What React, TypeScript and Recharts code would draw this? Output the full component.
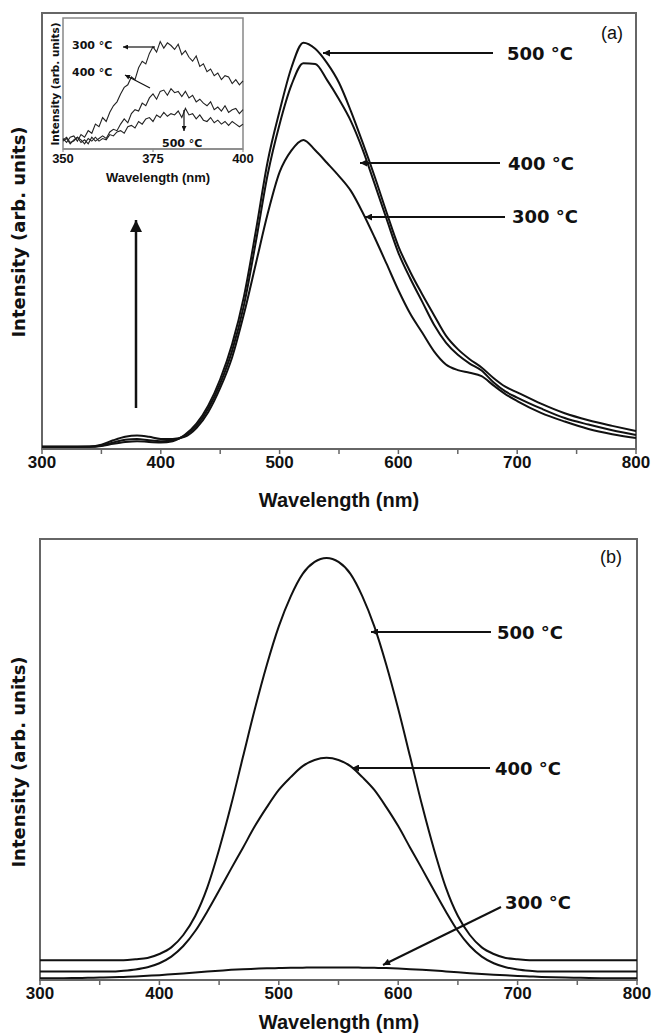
import { LineChart, Line, XAxis, YAxis, ReferenceArea } from 'recharts';

// ---- panel (a): measured PL spectra ----
const WL_A = [300, 320, 340, 350, 360, 370, 380, 390, 400, 410, 420, 430, 440, 450, 460, 470, 480, 490, 500, 510, 520, 530, 540, 550, 560, 570, 580, 590, 600, 610, 620, 630, 640, 650, 660, 670, 680, 690, 700, 720, 740, 760, 780, 800];
const A_500 = [0.5, 0.5, 0.5, 0.7, 1.2, 1.6, 1.8, 1.6, 1.5, 1.8, 3.2, 5.8, 10, 16, 24, 35, 50, 66, 77.5, 87.5, 93.2, 91.8, 88.5, 84, 77.5, 70.2, 62.5, 54.3, 46.5, 40.6, 35.5, 30.7, 26, 22.9, 20.6, 18.7, 16.3, 14.3, 13, 10.4, 8.2, 6.6, 5.3, 4.1];
const A_400 = [0.5, 0.5, 0.5, 0.8, 1.5, 2.1, 2.3, 2.0, 1.8, 2.0, 3.0, 5.3, 9.3, 15, 22.5, 33, 47.5, 63, 74.5, 83.5, 88.5, 88.3, 84.6, 80.2, 75.2, 68.6, 60.8, 52.8, 45, 39.1, 33.8, 28.5, 24.4, 21.6, 19.6, 18, 15.3, 13.2, 11.8, 9.3, 7.1, 5.6, 4.3, 3.2];
const A_300 = [0.5, 0.5, 0.6, 1.0, 2.0, 2.8, 3.1, 2.8, 2.3, 2.3, 2.8, 4.8, 8.5, 14, 21, 31, 42.5, 54, 63.5, 68.5, 70.9, 68.5, 65.6, 62.6, 59.2, 54.2, 48.5, 42.5, 36.4, 31, 26.7, 22.4, 19.4, 18.1, 17.5, 16.7, 14.6, 12.6, 11, 8.3, 6.3, 4.6, 3.4, 2.5];

// ---- inset of (a): 350-400 nm, noisy ----
const WL_INSET = [350, 351, 352, 353, 354, 355, 356, 357, 358, 359, 360, 361, 362, 363, 364, 365, 366, 367, 368, 369, 370, 371, 372, 373, 374, 375, 376, 377, 378, 379, 380, 381, 382, 383, 384, 385, 386, 387, 388, 389, 390, 391, 392, 393, 394, 395, 396, 397, 398, 399, 400];
const IN_300 = [8, 5, 9, 10, 6, 11, 9, 14, 12, 19, 17, 24, 21, 28, 33, 36, 42, 47, 49, 55, 53, 62, 67, 65, 73, 78, 74, 82, 77, 81, 79, 76, 80, 72, 75, 70, 67, 71, 63, 65, 59, 61, 56, 58, 53, 56, 55, 50, 53, 49, 52];
const IN_400 = [6, 8, 4, 7, 9, 5, 7, 4, 9, 6, 8, 10, 8, 13, 15, 14, 19, 23, 20, 27, 30, 29, 35, 33, 39, 42, 38, 44, 45, 41, 46, 43, 44, 40, 44, 39, 41, 36, 38, 35, 33, 36, 30, 32, 29, 33, 28, 30, 31, 27, 30];
const IN_500 = [7, 9, 5, 6, 9, 7, 4, 8, 6, 9, 6, 8, 7, 11, 10, 13, 14, 12, 17, 18, 16, 21, 19, 23, 24, 21, 26, 24, 28, 25, 27, 26, 29, 24, 31, 26, 27, 23, 26, 22, 21, 24, 20, 22, 19, 21, 18, 21, 19, 17, 19];

// ---- panel (b): fitted bands ----
const WL_B = [300, 310, 320, 330, 340, 350, 360, 370, 380, 390, 400, 410, 420, 430, 440, 450, 460, 470, 480, 490, 500, 510, 520, 530, 540, 550, 560, 570, 580, 590, 600, 610, 620, 630, 640, 650, 660, 670, 680, 690, 700, 710, 720, 730, 740, 750, 760, 770, 780, 790, 800];
const B_500 = [4.5, 4.5, 4.5, 4.5, 4.5, 4.5, 4.5, 4.5, 4.7, 5.0, 5.9, 7.4, 10.2, 14.5, 20.9, 29.6, 39.6, 50.6, 61.5, 71.5, 80.2, 87.0, 92.1, 94.8, 95.7, 94.8, 92.1, 87.0, 80.2, 71.5, 61.5, 50.6, 39.6, 29.6, 20.9, 14.5, 10.2, 7.4, 5.9, 5.0, 4.7, 4.5, 4.5, 4.5, 4.5, 4.5, 4.5, 4.5, 4.5, 4.5, 4.5];
const B_400 = [1.9, 1.9, 1.9, 1.9, 1.9, 1.9, 1.9, 2.1, 2.4, 2.9, 3.8, 5.3, 7.7, 11.1, 15.5, 20.3, 25.2, 30.0, 34.9, 39.2, 43.1, 46.0, 48.5, 49.9, 50.4, 49.9, 48.5, 46.0, 43.1, 39.2, 34.9, 30.0, 25.2, 20.3, 15.5, 11.1, 7.7, 5.3, 3.8, 2.9, 2.4, 2.1, 1.9, 1.9, 1.9, 1.9, 1.9, 1.9, 1.9, 1.9, 1.9];
const B_300 = [0.4, 0.4, 0.4, 0.45, 0.5, 0.55, 0.6, 0.7, 0.8, 0.95, 1.1, 1.3, 1.5, 1.7, 1.9, 2.1, 2.3, 2.45, 2.55, 2.65, 2.7, 2.75, 2.8, 2.85, 2.85, 2.85, 2.85, 2.8, 2.75, 2.7, 2.6, 2.45, 2.3, 2.15, 1.95, 1.75, 1.55, 1.35, 1.2, 1.05, 0.9, 0.8, 0.7, 0.62, 0.55, 0.5, 0.45, 0.42, 0.4, 0.4, 0.4];

const X_TICKS = [300, 350, 400, 450, 500, 550, 600, 650, 700, 750, 800];
const INSET_TICKS = [350, 375, 400];

const dataA = WL_A.map((wl, i) => ({ wl, t500: A_500[i], t400: A_400[i], t300: A_300[i] }));
const dataInset = WL_INSET.map((wl, i) => ({ wl, t500: IN_500[i], t400: IN_400[i], t300: IN_300[i] }));
const dataB = WL_B.map((wl, i) => ({ wl, t500: B_500[i], t400: B_400[i], t300: B_300[i] }));

const ARIAL = "'Liberation Sans', Arial, sans-serif";
const DEJAVU = "'DejaVu Sans', Verdana, sans-serif";
const INK = '#111';
const FRAME = '#666';

const tickStyle = { fontSize: 17, fontWeight: 700, fill: INK, fontFamily: ARIAL };

function MainPanel({ data, top, height, left, right, marginTop, axisHeight }: any) {
  return (
    <div style={{ position: 'absolute', left: 0, top }}>
      <LineChart width={656} height={height} data={data} margin={{ top: marginTop, right, left, bottom: 0 }}>
        <XAxis
          type="number"
          dataKey="wl"
          domain={[300, 800]}
          ticks={X_TICKS}
          interval={0}
          tickFormatter={(v: number) => (v % 100 === 0 ? String(v) : '')}
          tick={tickStyle}
          tickSize={5}
          tickLine={{ stroke: FRAME, strokeWidth: 1.5 }}
          axisLine={{ stroke: FRAME, strokeWidth: 2 }}
          height={axisHeight}
        />
        <YAxis hide domain={[0, 100]} />
        <ReferenceArea x1={300} x2={800} y1={0} y2={100} fill="none" stroke={FRAME} strokeWidth={2} ifOverflow="visible" />
        <Line type="monotone" dataKey="t300" stroke={INK} strokeWidth={2} dot={false} isAnimationActive={false} />
        <Line type="monotone" dataKey="t400" stroke={INK} strokeWidth={2} dot={false} isAnimationActive={false} />
        <Line type="monotone" dataKey="t500" stroke={INK} strokeWidth={2} dot={false} isAnimationActive={false} />
      </LineChart>
    </div>
  );
}

function Inset() {
  return (
    <div style={{ position: 'absolute', left: 40, top: 0 }}>
      <LineChart width={215} height={190} data={dataInset} margin={{ top: 18, right: 12, left: 23, bottom: 0 }}>
        <XAxis
          type="number"
          dataKey="wl"
          domain={[350, 400]}
          ticks={INSET_TICKS}
          interval={0}
          tick={{ fontSize: 13, fontWeight: 700, fill: INK, fontFamily: ARIAL }}
          tickSize={3}
          tickLine={{ stroke: '#888' }}
          axisLine={{ stroke: '#888', strokeWidth: 1.5 }}
          height={41}
        />
        <YAxis hide domain={[0, 100]} />
        <ReferenceArea x1={350} x2={400} y1={0} y2={100} fill="#fff" fillOpacity={1} stroke="#888" strokeWidth={1.5} ifOverflow="visible" />
        <Line type="linear" dataKey="t300" stroke="#222" strokeWidth={1.1} dot={false} isAnimationActive={false} />
        <Line type="linear" dataKey="t400" stroke="#222" strokeWidth={1.1} dot={false} isAnimationActive={false} />
        <Line type="linear" dataKey="t500" stroke="#222" strokeWidth={1.1} dot={false} isAnimationActive={false} />
      </LineChart>
    </div>
  );
}

function Tag({ x, y, text, size = 18 }: { x: number; y: number; text: string; size?: number }) {
  return (
    <text x={x} y={y} dominantBaseline="central" fontFamily={DEJAVU} fontWeight={700} fontSize={size} fill={INK}>
      {text}
    </text>
  );
}

function Overlay() {
  return (
    <svg width={656} height={1035} style={{ position: 'absolute', left: 0, top: 0, pointerEvents: 'none' }}>
      <defs>
        <marker id="ah" viewBox="0 0 10 10" refX="10" refY="5" markerWidth="9" markerHeight="7" markerUnits="userSpaceOnUse" orient="auto">
          <path d="M0,0 L10,5 L0,10 z" fill={INK} />
        </marker>
        <marker id="ahSmall" viewBox="0 0 10 10" refX="10" refY="5" markerWidth="6" markerHeight="5" markerUnits="userSpaceOnUse" orient="auto">
          <path d="M0,0 L10,5 L0,10 z" fill={INK} />
        </marker>
        <marker id="ahBig" viewBox="0 0 10 10" refX="10" refY="5" markerWidth="14" markerHeight="12" markerUnits="userSpaceOnUse" orient="auto">
          <path d="M0,0 L10,5 L0,10 z" fill={INK} />
        </marker>
      </defs>

      {/* axis titles */}
      <text x={18} y={232} transform="rotate(-90 18 232)" textAnchor="middle" dominantBaseline="central" fontFamily={DEJAVU} fontWeight={700} fontSize={18} fill={INK}>
        Intensity (arb. units)
      </text>
      <text x={339} y={500} textAnchor="middle" dominantBaseline="central" fontFamily={ARIAL} fontWeight={700} fontSize={20} fill={INK}>
        Wavelength (nm)
      </text>
      <text x={18} y={762} transform="rotate(-90 18 762)" textAnchor="middle" dominantBaseline="central" fontFamily={DEJAVU} fontWeight={700} fontSize={18} fill={INK}>
        Intensity (arb. units)
      </text>
      <text x={339} y={1022} textAnchor="middle" dominantBaseline="central" fontFamily={ARIAL} fontWeight={700} fontSize={20} fill={INK}>
        Wavelength (nm)
      </text>

      {/* panel letters */}
      <text x={612} y={33} textAnchor="middle" dominantBaseline="central" fontFamily={ARIAL} fontSize={18} fill={INK}>(a)</text>
      <text x={611} y={557} textAnchor="middle" dominantBaseline="central" fontFamily={ARIAL} fontSize={18} fill={INK}>(b)</text>

      {/* panel (a) labels */}
      <line x1={493} y1={53} x2={323} y2={53} stroke={INK} strokeWidth={2} markerEnd="url(#ah)" />
      <Tag x={507} y={53} text="500 °C" />
      <line x1={500} y1={163} x2={360} y2={163} stroke={INK} strokeWidth={2} markerEnd="url(#ah)" />
      <Tag x={508} y={163} text="400 °C" />
      <line x1={505} y1={217} x2={365} y2={217} stroke={INK} strokeWidth={2} markerEnd="url(#ah)" />
      <Tag x={512} y={216} text="300 °C" />
      <line x1={136} y1={408} x2={136} y2={220} stroke={INK} strokeWidth={2.5} markerEnd="url(#ahBig)" />

      {/* inset labels */}
      <text x={55} y={84} transform="rotate(-90 55 84)" textAnchor="middle" dominantBaseline="central" fontFamily={DEJAVU} fontWeight={700} fontSize={10.5} fill={INK}>
        Intensity (arb. units)
      </text>
      <text x={158} y={177} textAnchor="middle" dominantBaseline="central" fontFamily={ARIAL} fontWeight={700} fontSize={13} fill={INK}>
        Wavelength (nm)
      </text>
      <Tag x={72} y={45} text="300 °C" size={11} />
      <line x1={155} y1={47} x2={123} y2={47} stroke={INK} strokeWidth={1.2} markerEnd="url(#ahSmall)" />
      <Tag x={72} y={72} text="400 °C" size={11} />
      <line x1={150} y1={88} x2={125} y2={75} stroke={INK} strokeWidth={1.2} markerEnd="url(#ahSmall)" />
      <Tag x={162} y={143} text="500 °C" size={11} />
      <line x1={184} y1={110} x2={184} y2={131} stroke={INK} strokeWidth={1.2} markerEnd="url(#ahSmall)" />

      {/* panel (b) labels */}
      <line x1={491} y1={632} x2={371} y2={632} stroke={INK} strokeWidth={2} markerEnd="url(#ah)" />
      <Tag x={497} y={632} text="500 °C" />
      <line x1={490} y1={768} x2={352} y2={768} stroke={INK} strokeWidth={2} markerEnd="url(#ah)" />
      <Tag x={495} y={768} text="400 °C" />
      <line x1={501} y1={907} x2={383} y2={965} stroke={INK} strokeWidth={2} markerEnd="url(#ah)" />
      <Tag x={505} y={902} text="300 °C" />
    </svg>
  );
}

export default function App() {
  return (
    <div style={{ position: 'absolute', left: 0, top: 0, width: 656, height: 1035, background: '#fff', overflow: 'hidden' }}>
      <MainPanel data={dataA} top={0} height={510} left={42} right={20} marginTop={13} axisHeight={61} />
      <MainPanel data={dataB} top={520} height={515} left={40} right={19} marginTop={19} axisHeight={55} />
      <Inset />
      <Overlay />
    </div>
  );
}
